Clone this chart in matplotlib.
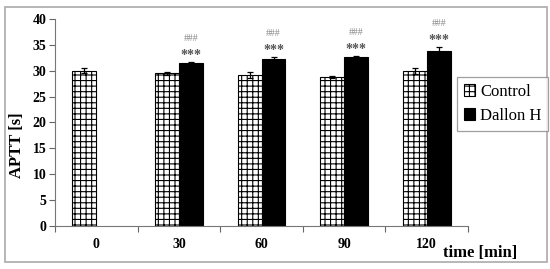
import matplotlib
matplotlib.use("Agg")
import matplotlib.pyplot as plt
import matplotlib.patches as mpatches
import numpy as np

categories = ["0", "30", "60", "90", "120"]
control = [30.0, 29.5, 29.1, 28.8, 29.9]
control_err = [0.5, 0.3, 0.6, 0.2, 0.6]
dallon = [np.nan, 31.4, 32.3, 32.6, 33.9]
dallon_err = [0, 0.2, 0.3, 0.2, 0.6]
stars = ["", "***", "***", "***", "***"]
hashes = ["", "###", "###", "###", "###"]

plt.rcParams['font.family'] = ['Liberation Serif', 'DejaVu Serif']
plt.rcParams['hatch.color'] = '#999999'
plt.rcParams['hatch.linewidth'] = 0.8

fig = plt.figure(figsize=(5.5, 2.69), dpi=100)
ax = fig.add_axes([0.1, 0.16, 0.751, 0.7694])

x = np.arange(len(categories))
w = 0.29
ax.bar(x - w / 2, control, w, yerr=control_err, color='white', edgecolor='black',
       linewidth=0.8, hatch='+++', error_kw=dict(ecolor='black', elinewidth=0.9, capsize=2.5, capthick=0.9),
       label='Control')
dx = x[1:]
ax.bar(dx + w / 2, dallon[1:], w, yerr=dallon_err[1:], color='black', edgecolor='black',
       linewidth=0.8, error_kw=dict(ecolor='black', elinewidth=0.9, capsize=2.5, capthick=0.9),
       label='Dallon H')

for i in range(1, len(categories)):
    top = dallon[i] + dallon_err[i]
    ax.text(x[i] + w / 2, top + 1.3, stars[i], ha='center', va='center', fontsize=10,
            color='#555555', fontweight='bold')
    ax.text(x[i] + w / 2, top + 4.6, hashes[i], ha='center', va='center', fontsize=7,
            color='#888888')

ax.set_xlim(-0.5, 4.5)
ax.set_ylim(0, 40)
ax.set_yticks(range(0, 41, 5))
ax.set_xticks(x)
ax.set_xticklabels(categories)
ax.set_xticks(np.arange(-0.5, 4.6, 1), minor=True)
ax.tick_params(axis='x', which='major', length=0, pad=9, labelsize=10)
ax.tick_params(axis='x', which='minor', length=4, direction='out', width=0.8, color='#666666')
ax.tick_params(axis='y', length=4, direction='out', width=0.8, pad=2, labelsize=10, color='#666666')
for lab in ax.get_xticklabels() + ax.get_yticklabels():
    lab.set_fontweight('bold')
ax.spines['top'].set_visible(False)
ax.spines['right'].set_visible(False)
ax.spines['left'].set_color('#777777')
ax.spines['bottom'].set_color('#777777')
ax.spines['left'].set_linewidth(0.8)
ax.spines['bottom'].set_linewidth(0.8)

fig.text(17 / 550, 1 - 145 / 269, "APTT [s]", rotation=90, ha='center', va='center',
         fontsize=12, fontweight='bold')
fig.text(480 / 550, 1 - 253 / 269, "time [min]", ha='center', va='center',
         fontsize=12, fontweight='bold')

leg = fig.legend(loc='upper left', bbox_to_anchor=(457 / 550, 1 - 77 / 269), frameon=True,
                 fontsize=12, handlelength=0.7, handleheight=0.7, handletextpad=0.3,
                 borderpad=0.4, labelspacing=0.5, fancybox=False, borderaxespad=0)
leg.get_frame().set_edgecolor('#888888')
leg.get_frame().set_linewidth(0.9)

border = mpatches.Rectangle((5 / 550, 1 - 262 / 269), 542 / 550, 255 / 269, transform=fig.transFigure,
                            fill=False, edgecolor='#aaaaaa', linewidth=1.2)
fig.patches.append(border)

fig.savefig("out.png", dpi=100)
